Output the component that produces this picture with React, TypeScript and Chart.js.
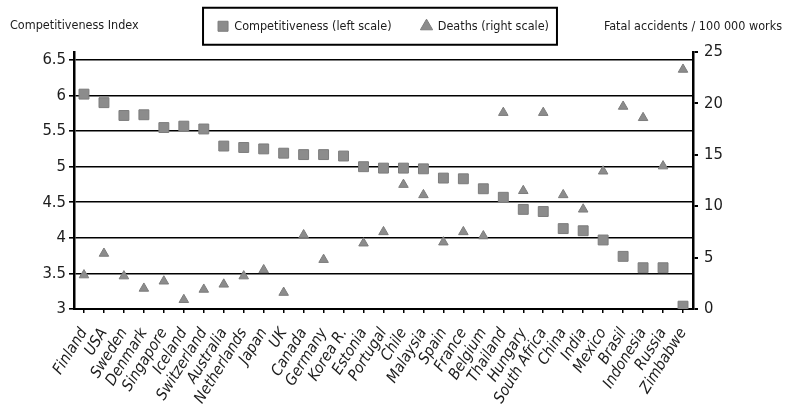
import { useEffect, useRef } from "react";
import { Chart, registerables } from "chart.js";

Chart.register(...registerables);

const countries = [
  "Finland", "USA", "Sweden", "Denmark", "Singapore", "Iceland", "Switzerland",
  "Australia", "Netherlands", "Japan", "UK", "Canada", "Germany", "Korea R.",
  "Estonia", "Portugal", "Chile", "Malaysia", "Spain", "France", "Belgium",
  "Thailand", "Hungary", "South Africa", "China", "India", "Mexico", "Brasil",
  "Indonesia", "Russia", "Zimbabwe",
];

// left scale
const competitiveness = [
  6.02, 5.9, 5.72, 5.73, 5.55, 5.57, 5.53,
  5.29, 5.27, 5.25, 5.19, 5.17, 5.17, 5.15,
  5.0, 4.98, 4.98, 4.97, 4.84, 4.83, 4.69,
  4.57, 4.4, 4.37, 4.13, 4.1, 3.97, 3.74,
  3.58, 3.58, 3.04,
];

// right scale (no value for Korea R.)
const deaths = [
  3.3, 5.4, 3.2, 2.0, 2.7, 0.9, 1.9,
  2.4, 3.2, 3.8, 1.6, 7.2, 4.8, null,
  6.4, 7.5, 12.1, 11.1, 6.5, 7.5, 7.1,
  19.1, 11.5, 19.1, 11.1, 9.7, 13.4, 19.7,
  18.6, 13.9, 23.3,
];

const leftMin = 3;
const leftMax = 6.612;
const leftStep = 0.5;
const rightMin = 0;
const rightMax = 25;
const rightStep = 5;

const FONT = "'DejaVu Sans Condensed', 'DejaVu Sans', sans-serif";
const INK = "#1c1c1c";
const MARK = "#8c8c8c";

const LEGEND_TOP = -10;
const PLOT_TOP = 52;

const extras = {
  id: "extras",
  afterInit(chart: any) {
    // stretch the legend box so the plot starts at PLOT_TOP
    const lg = chart.legend;
    if (lg && !lg._patched) {
      const fit = lg.fit;
      lg.fit = function () {
        fit.call(this);
        this.height = PLOT_TOP - LEGEND_TOP;
      };
      lg._patched = true;
    }
  },
  afterDraw(chart: any) {
    const ctx = chart.ctx;
    ctx.save();
    ctx.fillStyle = INK;
    ctx.font = `12.5px ${FONT}`;
    ctx.textBaseline = "middle";
    ctx.textAlign = "left";
    ctx.fillText("Competitiveness Index", 10, 26);
    ctx.textAlign = "right";
    ctx.fillText("Fatal accidents / 100 000 works", 782, 27);

    // frame round the legend
    const boxes = chart.legend?.legendHitBoxes || [];
    if (boxes.length) {
      const left = Math.min(...boxes.map((b: any) => b.left)) - 15;
      const right = Math.max(...boxes.map((b: any) => b.left + b.width)) + 8;
      const mid = boxes[0].top + boxes[0].height / 2;
      ctx.strokeStyle = "#000";
      ctx.lineWidth = 2;
      ctx.strokeRect(left, mid - 18.5, right - left, 37);
    }
    ctx.restore();
  },
};

export default function App() {
  const chartRef = useRef<HTMLCanvasElement>(null);
  const chartInstance = useRef<Chart | null>(null);

  useEffect(() => {
    document.body.style.margin = "0";
    if (!chartRef.current) return;
    if (chartInstance.current) chartInstance.current.destroy();
    const ctx = chartRef.current.getContext("2d");
    if (!ctx) return;

    chartInstance.current = new Chart(ctx, {
      type: "line",
      data: {
        labels: countries,
        datasets: [
          {
            label: "Competitiveness (left scale)",
            data: competitiveness,
            yAxisID: "y",
            showLine: false,
            pointStyle: "rect",
            pointRadius: 7,
            backgroundColor: MARK,
            borderColor: "#7c7c7c",
            borderWidth: 1,
          },
          {
            label: "Deaths (right scale)",
            data: deaths,
            yAxisID: "y1",
            showLine: false,
            pointStyle: "triangle",
            pointRadius: 5.5,
            backgroundColor: MARK,
            borderColor: "#7c7c7c",
            borderWidth: 1,
          },
        ],
      },
      options: {
        responsive: false,
        animation: false,
        events: [],
        layout: { padding: { top: LEGEND_TOP, left: 0, right: 19, bottom: 0 } },
        plugins: {
          legend: {
            position: "top",
            labels: {
              usePointStyle: true,
              color: INK,
              font: { family: FONT, size: 12.5 },
              padding: 30,
              boxWidth: 10,
              boxHeight: 10,
            },
          },
          tooltip: { enabled: false },
        },
        scales: {
          x: {
            type: "category",
            offset: true,
            grid: {
              display: true,
              drawOnChartArea: false,
              offset: false,
              tickLength: 4,
              color: "#000",
              lineWidth: 1.5,
            },
            border: { display: true, color: "#000", width: 2 },
            ticks: {
              autoSkip: false,
              minRotation: 58,
              maxRotation: 58,
              padding: 12,
              color: INK,
              font: { family: FONT, size: 15.5, style: "italic" },
            },
            afterFit: (s: any) => {
              s.height = 106;
            },
          },
          y: {
            position: "left",
            min: leftMin,
            max: leftMax,
            ticks: {
              stepSize: leftStep,
              includeBounds: false,
              padding: 3,
              color: INK,
              font: { family: FONT, size: 16.5 },
              callback: (v: any) => String(v),
            },
            grid: { color: "#000", lineWidth: 1.6, tickLength: 5 },
            border: { color: "#000", width: 2.5 },
            afterFit: (s: any) => {
              s.width = 74;
            },
          },
          y1: {
            position: "right",
            min: rightMin,
            max: rightMax,
            ticks: {
              stepSize: rightStep,
              padding: 6,
              color: INK,
              font: { family: FONT, size: 16.5 },
              callback: (v: any) => String(v),
            },
            grid: { drawOnChartArea: false, color: "#000", lineWidth: 2, tickLength: 5 },
            border: { color: "#000", width: 2.5 },
            afterFit: (s: any) => {
              s.width = 74;
            },
          },
        },
      },
      plugins: [extras],
    });

    return () => {
      if (chartInstance.current) {
        chartInstance.current.destroy();
        chartInstance.current = null;
      }
    };
  }, []);

  return (
    <div style={{ width: 786, height: 415 }}>
      <canvas ref={chartRef} width={786} height={415} />
    </div>
  );
}
